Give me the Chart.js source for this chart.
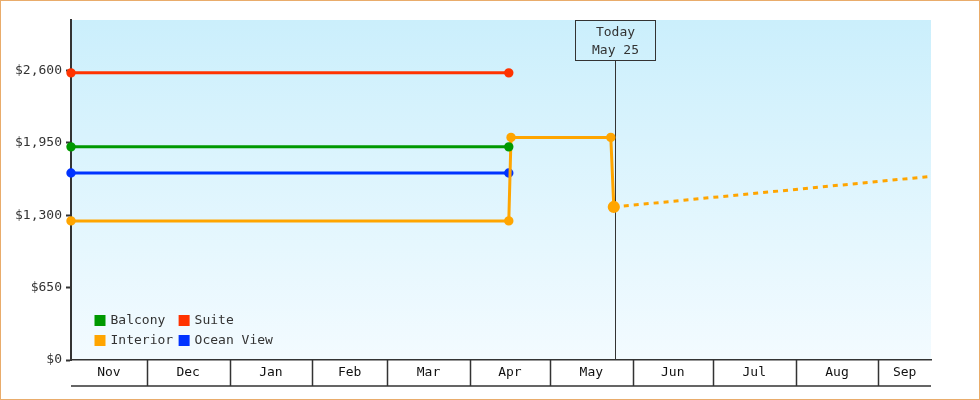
<!DOCTYPE html>
<html>
<head>
<meta charset="utf-8">
<script src="https://cdn.jsdelivr.net/npm/chart.js@4"></script>
<style>
  html, body { margin: 0; padding: 0; background: #fff; }
  #wrap { width: 980px; height: 400px; box-sizing: border-box; border: 1px solid #e9ac6b; position: relative; }
  #wrap canvas { display: block; }
</style>
</head>
<body>
<div id="wrap"><canvas id="fares" width="978" height="398"></canvas></div>
<script>
// axis range and month cells
const axisStart = '2014-11-02T15:00Z';
const axisEnd = '2015-09-20T17:00Z';
const monthStarts = ['2014-11-01', '2014-12-01', '2015-01-01', '2015-02-01', '2015-03-01', '2015-04-01',
                     '2015-05-01', '2015-06-01', '2015-07-01', '2015-08-01', '2015-09-01', '2015-10-01'];
const monthLabels = ['Nov', 'Dec', 'Jan', 'Feb', 'Mar', 'Apr', 'May', 'Jun', 'Jul', 'Aug', 'Sep'];
const yTicks = [0, 650, 1300, 1950, 2600];
const yMax = 3055;

// series (dates / prices)
const balconyDates = [axisStart, '2015-04-15T14:00Z'];
const balconyPrices = [1915, 1915];
const interiorDates = [axisStart, '2015-04-15T14:00Z', '2015-04-16T10:00Z', '2015-05-23T19:00Z', '2015-05-24T22:00Z'];
const interiorPrices = [1250, 1250, 2000, 2000, 1375];
const suiteDates = [axisStart, '2015-04-15T14:00Z'];
const suitePrices = [2580, 2580];
const oceanDates = [axisStart, '2015-04-15T14:00Z'];
const oceanPrices = [1680, 1680];
const forecastDates = ['2015-05-24T22:00Z', axisEnd];
const forecastPrices = [1375, 1650];

const todayDate = '2015-05-25T12:00Z';
const todayLabel = ['Today', 'May 25'];

const FONT = '"DejaVu Sans Mono", "Liberation Mono", monospace';
const INK = '#333';

function day(s) {
    return (Date.parse(s) - Date.parse('2014-11-01T00:00Z')) / 86400000;
}
function points(dates, prices) {
    return dates.map((d, i) => ({x: day(d), y: prices[i]}));
}

const xMin = day(axisStart), xMax = day(axisEnd);
// label position = middle of the visible part of each month
const monthMids = monthLabels.map((m, i) => {
    const lo = Math.max(day(monthStarts[i]), xMin);
    const hi = Math.min(day(monthStarts[i + 1]), xMax);
    return (lo + hi) / 2;
});

const backdrop = {
    id: 'backdrop',
    beforeDraw(chart) {
        const {ctx, chartArea: a} = chart;
        const g = ctx.createLinearGradient(0, a.top, 0, a.bottom);
        g.addColorStop(0, '#cbeffc');
        g.addColorStop(1, '#f3fbff');
        ctx.save();
        ctx.fillStyle = g;
        ctx.fillRect(a.left, a.top, a.right - a.left, a.bottom - a.top);
        ctx.restore();
    }
};

const monthCells = {
    id: 'monthCells',
    afterDraw(chart) {
        const {ctx, chartArea: a, scales: {x}} = chart;
        const y2 = a.bottom + 26;
        ctx.save();
        ctx.strokeStyle = INK;
        ctx.lineWidth = 1.5;
        ctx.beginPath();
        monthStarts.forEach(m => {
            const v = day(m);
            if (v <= x.min || v >= x.max) return;
            const px = Math.round(x.getPixelForValue(v)) + 0.5;
            ctx.moveTo(px, a.bottom);
            ctx.lineTo(px, y2);
        });
        ctx.moveTo(a.left, y2);
        ctx.lineTo(a.right, y2);
        ctx.stroke();
        ctx.restore();
    }
};

const todayMarker = {
    id: 'todayMarker',
    beforeDatasetsDraw(chart) {
        const {ctx, chartArea: a, scales: {x}} = chart;
        const px = Math.round(x.getPixelForValue(day(todayDate))) + 0.5;
        const boxW = 80, boxH = 40;
        const top = a.top + 0.5;
        ctx.save();
        ctx.strokeStyle = INK;
        ctx.lineWidth = 1;
        ctx.strokeRect(px - boxW / 2, top, boxW, boxH);
        ctx.beginPath();
        ctx.moveTo(px, top + boxH);
        ctx.lineTo(px, a.bottom);
        ctx.stroke();
        ctx.fillStyle = INK;
        ctx.font = '13px ' + FONT;
        ctx.textAlign = 'center';
        ctx.textBaseline = 'middle';
        todayLabel.forEach((t, i) => ctx.fillText(t, px, a.top + 13 + i * 18));
        ctx.restore();
    }
};

// put the legend in two columns at the lower left of the plot
const legendSpot = {
    id: 'legendSpot',
    afterLayout(chart) {
        const lg = chart.legend, a = chart.chartArea;
        lg.update(a.right - a.left, 54, {left: 0, top: 0, right: 0, bottom: 0});
        lg.left = a.left + 18;
        lg.right = lg.left + lg.width;
        lg.top = a.bottom - 53;
        lg.bottom = lg.top + 54;
    }
};

function line(label, color, dates, prices) {
    return {
        label: label,
        data: points(dates, prices),
        borderColor: color,
        backgroundColor: color,
        borderWidth: 3,
        pointRadius: 3.2,
        pointHoverRadius: 3.2,
        tension: 0,
        clip: false
    };
}

const datasets = [
    line('Balcony', '#009900', balconyDates, balconyPrices),
    line('Interior', '#ffa500', interiorDates, interiorPrices),
    line('Suite', '#ff3300', suiteDates, suitePrices),
    line('Ocean View', '#0033ff', oceanDates, oceanPrices)
];
const forecast = line('Interior forecast', '#ffa500', forecastDates, forecastPrices);
forecast.borderDash = [5, 5];
forecast.pointRadius = [4.6, 0];
datasets.push(forecast);

new Chart(document.getElementById('fares'), {
    type: 'line',
    data: {datasets: datasets},
    plugins: [backdrop, todayMarker, monthCells, legendSpot],
    options: {
        responsive: false,
        animation: false,
        events: [],
        layout: {padding: {top: 19, right: 48, left: 0, bottom: 0}},
        scales: {
            x: {
                type: 'linear',
                min: xMin,
                max: xMax,
                afterBuildTicks: scale => { scale.ticks = monthMids.map(v => ({value: v})); },
                afterFit: scale => { scale.height = 39; },
                grid: {display: false, drawTicks: false},
                border: {color: INK, width: 1.5},
                ticks: {
                    autoSkip: false,
                    maxRotation: 0,
                    padding: 5,
                    color: '#111',
                    font: {family: FONT, size: 13},
                    callback: (v, i) => monthLabels[i]
                }
            },
            y: {
                min: 0,
                max: yMax,
                afterBuildTicks: scale => { scale.ticks = yTicks.map(v => ({value: v})); },
                afterFit: scale => { scale.width = 70; },
                grid: {drawOnChartArea: false, tickLength: 5, tickWidth: 2, tickColor: INK},
                border: {color: INK, width: 2},
                ticks: {
                    padding: 4,
                    color: INK,
                    font: {family: FONT, size: 13},
                    callback: v => '$' + v.toLocaleString('en-US')
                }
            }
        },
        plugins: {
            tooltip: {enabled: false},
            legend: {
                position: 'chartArea',
                align: 'start',
                labels: {
                    boxWidth: 8,
                    boxHeight: 8,
                    padding: 7,
                    color: INK,
                    font: {family: FONT, size: 13},
                    filter: item => item.datasetIndex < 4
                }
            }
        }
    }
});
</script>
</body>
</html>
